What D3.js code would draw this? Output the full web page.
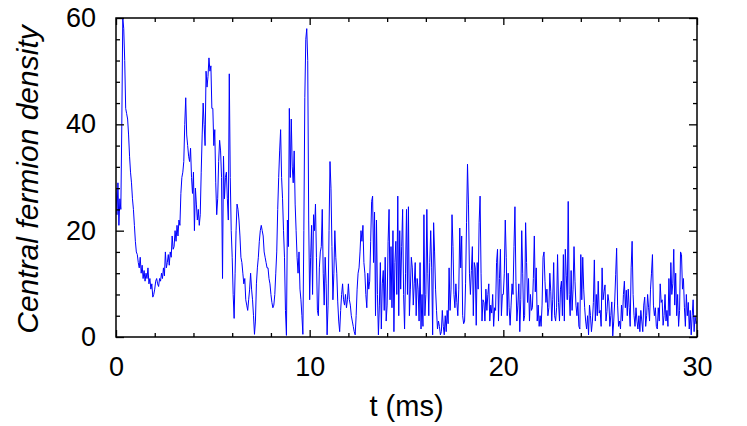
<!DOCTYPE html>
<html><head><meta charset="utf-8">
<script src="https://cdn.jsdelivr.net/npm/d3@7"></script>
<style>body{margin:0;background:#fff}svg{display:block}</style>
</head><body>
<svg id="c" width="747" height="426"></svg>
<script>
// sample spacing (ms) of the density record
const sampleStep = 0.05;
// central fermion density, one row per millisecond (20 samples each), plus final sample at 30 ms
const density = [
28,23,29,21,26,24,40,60,58,52,43,42,41,38,34,31,29,26,24,21,
18,16,15.5,14,13,15,12,13.5,11,12.5,10.5,12,11,13,10,11,9,10,7.5,8,
9,10.5,11,10,9.5,11,10.5,12,11,13,11.5,16,13,14,15.5,13.5,16,15,19,16.5,
17,20,18,21,19,22,21,27,30,31,33,40,45,38,36,34,33,35.5,30,27,
31,20,28,25,22,24,21,23,31,38,44,40,36,50,47,49,52.5,50,51,43,
43,36,39,29,23,26,33,37,35,30,11,34,26,30,31,26,22,49.5,30,20,
15,8,3.5,12,20,25,24,22,19,15,14,12,10,11,7,6,5,7,9,12,
9,7,4,0.5,3,10,13,15,18,20,21,20,19,16,15,14,13,13,11,10,
8,6.5,5.5,6,8,12,16,24,30,35,39,30,26,20,15,5,0.3,22,17,43,
30,41,32,29,35,25,20,15,12,16,9,7,4,0.5,20,45,56,58,52,22,
7,15,21,8,23,20,25,15,5,4,13,16,17,24,12,6,15,10,0.4,6,
20,33,28,17,7,12,20,15,12,6.6,3,1,5,8,10,7,6,8,5.5,7,
10,7,6,4,3,2,1,0.4,4,9,12,13,16,20,18,21,14,12,8,5.5,
12,9,10.5,18,25.5,26.5,14,23.5,4,22,8,0.4,6,14,1.5,10,12.5,5,15,3,
6,18,24,7,17,5.5,20,1,14,18,8,26.5,4,20,9,17,24,8,1.5,12,
24,8,24.5,4,9,15,13,6,10,14,4,11,9,3,14,1.5,8,2,23,4,
8,24,12,4,14,20,13,0.4,21.5,16,9,5,1.5,3,2,0.4,1,5,2,0.4,
4,1,5,2.5,13,5,9,23,17,8,5.5,10,6.5,4,9,20.5,13,19,4,2.5,
3,10,21.5,32.5,25,12,8,12.5,17,4,14,13,2.2,14,9,21.5,26.5,12,3,7,
6.5,3,9,5,8,10,3,6,4.5,8,2,5.5,5,14,16.5,3,11,16.5,4,8,
8,12,22,15,4,12,5.5,2.2,6,10,8,17,24.5,10.5,3,6,10,1,7,20,
12,3,4,21.5,14,6.5,11,3,8,5,5.5,11,19,8.5,13,3,6,2,4,2,
6,15,16,10.5,6.5,9,4,5.5,12,8.5,3,7,14,4,3,5.5,15.5,6.5,3,9,
10.5,4,15.5,3,16.5,11.5,7,25.5,8,4,12.5,5,9,17,10.5,6,4,6.5,2,1.5,
15.5,7,15,9,5.5,3,1.5,4,0.4,6,4,1,3,6.5,14.5,3,8,4,10.5,4.5,
5,2,13,7,8.5,9.8,3,4.8,8,6.6,2,4,6.6,0.2,3,6.6,11.7,16.7,6,2,
3,1.5,6,3,8,10.5,5.5,8.8,4,9,5.5,2,13,18,8,4,2,5.5,3,1.5,
4,1,5,3,1,6,7.5,2,4,8,5.5,3,9,12,15.5,6,4,5.5,2,1.5,
5.5,3,10,6.5,7,2.2,4,8,3,5,2,11,4,14,8,10,16.5,6,12,4,
8,2,5,16,15.5,9,11,5.5,2,8,4,6.5,1.5,5,0.4,4,7,1,4,2.5,
3
];
const xTickValues = [0, 10, 20, 30];
const xMinorValues = [2, 4, 6, 8, 12, 14, 16, 18, 22, 24, 26, 28];
const yTickValues = [0, 20, 40, 60];
const yMinorValues = [4, 8, 12, 16, 24, 28, 32, 36, 44, 48, 52, 56];
const xTitle = "t (ms)";
const yTitle = "Central fermion density";

const L = 116, R = 697, T = 18, B = 337;
const svg = d3.select("#c");
const x = d3.scaleLinear().domain([0, 30]).range([L, R]);
const y = d3.scaleLinear().domain([0, 60]).range([B, T]);
const font = "'Liberation Sans', Arial, Helvetica, sans-serif";

svg.append("clipPath").attr("id", "clip").append("rect")
  .attr("x", L).attr("y", T).attr("width", R - L).attr("height", B - T);

const pts = density.map((v, i) => [i * sampleStep, v]);
const line = d3.line().x(d => x(d[0])).y(d => y(d[1]));
svg.append("path").datum(pts).attr("clip-path", "url(#clip)")
  .attr("d", line).attr("fill", "none").attr("stroke", "#0000ff")
  .attr("stroke-width", 1).attr("stroke-linejoin", "round");

function styleAxis(g) {
  g.select(".domain").remove();
  g.selectAll("line").attr("stroke", "#000").attr("stroke-width", 1.3);
  g.selectAll("text").attr("font-family", font).attr("font-size", 27).attr("fill", "#000");
}
// bottom
svg.append("g").attr("transform", `translate(0,${B})`)
  .call(d3.axisBottom(x).tickValues(xTickValues).tickSize(-7).tickPadding(20).tickFormat(d3.format("d")))
  .call(styleAxis);
svg.append("g").attr("transform", `translate(0,${B})`)
  .call(d3.axisBottom(x).tickValues(xMinorValues).tickSize(-4).tickFormat(""))
  .call(styleAxis);
// top
svg.append("g").attr("transform", `translate(0,${T})`)
  .call(d3.axisTop(x).tickValues(xTickValues).tickSize(-7).tickFormat(""))
  .call(styleAxis);
svg.append("g").attr("transform", `translate(0,${T})`)
  .call(d3.axisTop(x).tickValues(xMinorValues).tickSize(-4).tickFormat(""))
  .call(styleAxis);
// left
svg.append("g").attr("transform", `translate(${L},0)`)
  .call(d3.axisLeft(y).tickValues(yTickValues).tickSize(-8).tickPadding(20).tickFormat(d3.format("d")))
  .call(styleAxis);
svg.append("g").attr("transform", `translate(${L},0)`)
  .call(d3.axisLeft(y).tickValues(yMinorValues).tickSize(-4).tickFormat(""))
  .call(styleAxis);
// right
svg.append("g").attr("transform", `translate(${R},0)`)
  .call(d3.axisRight(y).tickValues(yTickValues).tickSize(-8).tickFormat(""))
  .call(styleAxis);
svg.append("g").attr("transform", `translate(${R},0)`)
  .call(d3.axisRight(y).tickValues(yMinorValues).tickSize(-4).tickFormat(""))
  .call(styleAxis);

svg.append("rect").attr("x", L).attr("y", T).attr("width", R - L).attr("height", B - T)
  .attr("fill", "none").attr("stroke", "#000").attr("stroke-width", 1.5);

svg.append("text").attr("x", (L + R) / 2).attr("y", 416).attr("text-anchor", "middle")
  .attr("font-family", font).attr("font-size", 29).text(xTitle);
svg.append("text").attr("transform", `translate(38,${(T + B) / 2 + 2}) rotate(-90)`)
  .attr("text-anchor", "middle").attr("font-family", font).attr("font-size", 30)
  .attr("font-style", "italic").text(yTitle);
</script>
</body></html>
